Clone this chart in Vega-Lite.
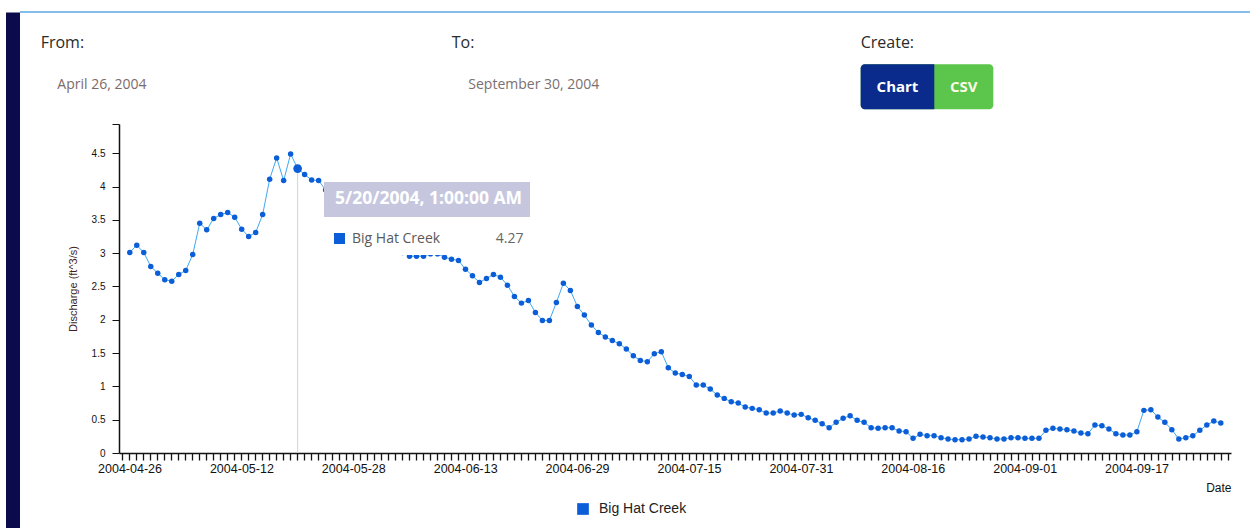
{
  "$schema": "https://vega.github.io/schema/vega-lite/v6.json",
  "width": 1112,
  "height": 329,
  "autosize": {"type": "none"},
  "padding": {"left": 119, "top": 124, "right": 19, "bottom": 75},
  "background": "white",
  "config": {"view": {"stroke": null}, "font": "Liberation Sans"},
  "datasets": {
    "flow": [
      {"date": "2004-04-26T01:00", "q": 3.01, "site": "Big Hat Creek"},
      {"date": "2004-04-27T01:00", "q": 3.12, "site": "Big Hat Creek"},
      {"date": "2004-04-28T01:00", "q": 3.01, "site": "Big Hat Creek"},
      {"date": "2004-04-29T01:00", "q": 2.80, "site": "Big Hat Creek"},
      {"date": "2004-04-30T01:00", "q": 2.70, "site": "Big Hat Creek"},
      {"date": "2004-05-01T01:00", "q": 2.60, "site": "Big Hat Creek"},
      {"date": "2004-05-02T01:00", "q": 2.58, "site": "Big Hat Creek"},
      {"date": "2004-05-03T01:00", "q": 2.68, "site": "Big Hat Creek"},
      {"date": "2004-05-04T01:00", "q": 2.74, "site": "Big Hat Creek"},
      {"date": "2004-05-05T01:00", "q": 2.98, "site": "Big Hat Creek"},
      {"date": "2004-05-06T01:00", "q": 3.45, "site": "Big Hat Creek"},
      {"date": "2004-05-07T01:00", "q": 3.35, "site": "Big Hat Creek"},
      {"date": "2004-05-08T01:00", "q": 3.52, "site": "Big Hat Creek"},
      {"date": "2004-05-09T01:00", "q": 3.58, "site": "Big Hat Creek"},
      {"date": "2004-05-10T01:00", "q": 3.61, "site": "Big Hat Creek"},
      {"date": "2004-05-11T01:00", "q": 3.54, "site": "Big Hat Creek"},
      {"date": "2004-05-12T01:00", "q": 3.36, "site": "Big Hat Creek"},
      {"date": "2004-05-13T01:00", "q": 3.25, "site": "Big Hat Creek"},
      {"date": "2004-05-14T01:00", "q": 3.31, "site": "Big Hat Creek"},
      {"date": "2004-05-15T01:00", "q": 3.58, "site": "Big Hat Creek"},
      {"date": "2004-05-16T01:00", "q": 4.11, "site": "Big Hat Creek"},
      {"date": "2004-05-17T01:00", "q": 4.43, "site": "Big Hat Creek"},
      {"date": "2004-05-18T01:00", "q": 4.09, "site": "Big Hat Creek"},
      {"date": "2004-05-19T01:00", "q": 4.49, "site": "Big Hat Creek"},
      {"date": "2004-05-20T01:00", "q": 4.27, "site": "Big Hat Creek"},
      {"date": "2004-05-21T01:00", "q": 4.18, "site": "Big Hat Creek"},
      {"date": "2004-05-22T01:00", "q": 4.10, "site": "Big Hat Creek"},
      {"date": "2004-05-23T01:00", "q": 4.09, "site": "Big Hat Creek"},
      {"date": "2004-05-24T01:00", "q": 3.95, "site": "Big Hat Creek"},
      {"date": "2004-05-25T01:00", "q": 3.80, "site": "Big Hat Creek"},
      {"date": "2004-05-26T01:00", "q": 3.65, "site": "Big Hat Creek"},
      {"date": "2004-05-27T01:00", "q": 3.50, "site": "Big Hat Creek"},
      {"date": "2004-05-28T01:00", "q": 3.38, "site": "Big Hat Creek"},
      {"date": "2004-05-29T01:00", "q": 3.27, "site": "Big Hat Creek"},
      {"date": "2004-05-30T01:00", "q": 3.18, "site": "Big Hat Creek"},
      {"date": "2004-05-31T01:00", "q": 3.13, "site": "Big Hat Creek"},
      {"date": "2004-06-01T01:00", "q": 3.10, "site": "Big Hat Creek"},
      {"date": "2004-06-02T01:00", "q": 3.06, "site": "Big Hat Creek"},
      {"date": "2004-06-03T01:00", "q": 3.03, "site": "Big Hat Creek"},
      {"date": "2004-06-04T01:00", "q": 3.01, "site": "Big Hat Creek"},
      {"date": "2004-06-05T01:00", "q": 2.955, "site": "Big Hat Creek"},
      {"date": "2004-06-06T01:00", "q": 2.955, "site": "Big Hat Creek"},
      {"date": "2004-06-07T01:00", "q": 2.955, "site": "Big Hat Creek"},
      {"date": "2004-06-08T01:00", "q": 2.99, "site": "Big Hat Creek"},
      {"date": "2004-06-09T01:00", "q": 2.99, "site": "Big Hat Creek"},
      {"date": "2004-06-10T01:00", "q": 2.94, "site": "Big Hat Creek"},
      {"date": "2004-06-11T01:00", "q": 2.91, "site": "Big Hat Creek"},
      {"date": "2004-06-12T01:00", "q": 2.89, "site": "Big Hat Creek"},
      {"date": "2004-06-13T01:00", "q": 2.76, "site": "Big Hat Creek"},
      {"date": "2004-06-14T01:00", "q": 2.66, "site": "Big Hat Creek"},
      {"date": "2004-06-15T01:00", "q": 2.56, "site": "Big Hat Creek"},
      {"date": "2004-06-16T01:00", "q": 2.62, "site": "Big Hat Creek"},
      {"date": "2004-06-17T01:00", "q": 2.68, "site": "Big Hat Creek"},
      {"date": "2004-06-18T01:00", "q": 2.64, "site": "Big Hat Creek"},
      {"date": "2004-06-19T01:00", "q": 2.52, "site": "Big Hat Creek"},
      {"date": "2004-06-20T01:00", "q": 2.35, "site": "Big Hat Creek"},
      {"date": "2004-06-21T01:00", "q": 2.25, "site": "Big Hat Creek"},
      {"date": "2004-06-22T01:00", "q": 2.29, "site": "Big Hat Creek"},
      {"date": "2004-06-23T01:00", "q": 2.11, "site": "Big Hat Creek"},
      {"date": "2004-06-24T01:00", "q": 1.99, "site": "Big Hat Creek"},
      {"date": "2004-06-25T01:00", "q": 1.99, "site": "Big Hat Creek"},
      {"date": "2004-06-26T01:00", "q": 2.26, "site": "Big Hat Creek"},
      {"date": "2004-06-27T01:00", "q": 2.55, "site": "Big Hat Creek"},
      {"date": "2004-06-28T01:00", "q": 2.44, "site": "Big Hat Creek"},
      {"date": "2004-06-29T01:00", "q": 2.20, "site": "Big Hat Creek"},
      {"date": "2004-06-30T01:00", "q": 2.07, "site": "Big Hat Creek"},
      {"date": "2004-07-01T01:00", "q": 1.92, "site": "Big Hat Creek"},
      {"date": "2004-07-02T01:00", "q": 1.81, "site": "Big Hat Creek"},
      {"date": "2004-07-03T01:00", "q": 1.74, "site": "Big Hat Creek"},
      {"date": "2004-07-04T01:00", "q": 1.69, "site": "Big Hat Creek"},
      {"date": "2004-07-05T01:00", "q": 1.64, "site": "Big Hat Creek"},
      {"date": "2004-07-06T01:00", "q": 1.56, "site": "Big Hat Creek"},
      {"date": "2004-07-07T01:00", "q": 1.46, "site": "Big Hat Creek"},
      {"date": "2004-07-08T01:00", "q": 1.39, "site": "Big Hat Creek"},
      {"date": "2004-07-09T01:00", "q": 1.37, "site": "Big Hat Creek"},
      {"date": "2004-07-10T01:00", "q": 1.49, "site": "Big Hat Creek"},
      {"date": "2004-07-11T01:00", "q": 1.52, "site": "Big Hat Creek"},
      {"date": "2004-07-12T01:00", "q": 1.28, "site": "Big Hat Creek"},
      {"date": "2004-07-13T01:00", "q": 1.20, "site": "Big Hat Creek"},
      {"date": "2004-07-14T01:00", "q": 1.18, "site": "Big Hat Creek"},
      {"date": "2004-07-15T01:00", "q": 1.15, "site": "Big Hat Creek"},
      {"date": "2004-07-16T01:00", "q": 1.02, "site": "Big Hat Creek"},
      {"date": "2004-07-17T01:00", "q": 1.02, "site": "Big Hat Creek"},
      {"date": "2004-07-18T01:00", "q": 0.96, "site": "Big Hat Creek"},
      {"date": "2004-07-19T01:00", "q": 0.87, "site": "Big Hat Creek"},
      {"date": "2004-07-20T01:00", "q": 0.82, "site": "Big Hat Creek"},
      {"date": "2004-07-21T01:00", "q": 0.77, "site": "Big Hat Creek"},
      {"date": "2004-07-22T01:00", "q": 0.75, "site": "Big Hat Creek"},
      {"date": "2004-07-23T01:00", "q": 0.69, "site": "Big Hat Creek"},
      {"date": "2004-07-24T01:00", "q": 0.67, "site": "Big Hat Creek"},
      {"date": "2004-07-25T01:00", "q": 0.65, "site": "Big Hat Creek"},
      {"date": "2004-07-26T01:00", "q": 0.60, "site": "Big Hat Creek"},
      {"date": "2004-07-27T01:00", "q": 0.60, "site": "Big Hat Creek"},
      {"date": "2004-07-28T01:00", "q": 0.63, "site": "Big Hat Creek"},
      {"date": "2004-07-29T01:00", "q": 0.60, "site": "Big Hat Creek"},
      {"date": "2004-07-30T01:00", "q": 0.57, "site": "Big Hat Creek"},
      {"date": "2004-07-31T01:00", "q": 0.58, "site": "Big Hat Creek"},
      {"date": "2004-08-01T01:00", "q": 0.53, "site": "Big Hat Creek"},
      {"date": "2004-08-02T01:00", "q": 0.49, "site": "Big Hat Creek"},
      {"date": "2004-08-03T01:00", "q": 0.44, "site": "Big Hat Creek"},
      {"date": "2004-08-04T01:00", "q": 0.38, "site": "Big Hat Creek"},
      {"date": "2004-08-05T01:00", "q": 0.46, "site": "Big Hat Creek"},
      {"date": "2004-08-06T01:00", "q": 0.52, "site": "Big Hat Creek"},
      {"date": "2004-08-07T01:00", "q": 0.56, "site": "Big Hat Creek"},
      {"date": "2004-08-08T01:00", "q": 0.49, "site": "Big Hat Creek"},
      {"date": "2004-08-09T01:00", "q": 0.46, "site": "Big Hat Creek"},
      {"date": "2004-08-10T01:00", "q": 0.38, "site": "Big Hat Creek"},
      {"date": "2004-08-11T01:00", "q": 0.37, "site": "Big Hat Creek"},
      {"date": "2004-08-12T01:00", "q": 0.38, "site": "Big Hat Creek"},
      {"date": "2004-08-13T01:00", "q": 0.38, "site": "Big Hat Creek"},
      {"date": "2004-08-14T01:00", "q": 0.33, "site": "Big Hat Creek"},
      {"date": "2004-08-15T01:00", "q": 0.32, "site": "Big Hat Creek"},
      {"date": "2004-08-16T01:00", "q": 0.22, "site": "Big Hat Creek"},
      {"date": "2004-08-17T01:00", "q": 0.28, "site": "Big Hat Creek"},
      {"date": "2004-08-18T01:00", "q": 0.26, "site": "Big Hat Creek"},
      {"date": "2004-08-19T01:00", "q": 0.26, "site": "Big Hat Creek"},
      {"date": "2004-08-20T01:00", "q": 0.23, "site": "Big Hat Creek"},
      {"date": "2004-08-21T01:00", "q": 0.21, "site": "Big Hat Creek"},
      {"date": "2004-08-22T01:00", "q": 0.20, "site": "Big Hat Creek"},
      {"date": "2004-08-23T01:00", "q": 0.20, "site": "Big Hat Creek"},
      {"date": "2004-08-24T01:00", "q": 0.21, "site": "Big Hat Creek"},
      {"date": "2004-08-25T01:00", "q": 0.25, "site": "Big Hat Creek"},
      {"date": "2004-08-26T01:00", "q": 0.24, "site": "Big Hat Creek"},
      {"date": "2004-08-27T01:00", "q": 0.23, "site": "Big Hat Creek"},
      {"date": "2004-08-28T01:00", "q": 0.21, "site": "Big Hat Creek"},
      {"date": "2004-08-29T01:00", "q": 0.21, "site": "Big Hat Creek"},
      {"date": "2004-08-30T01:00", "q": 0.23, "site": "Big Hat Creek"},
      {"date": "2004-08-31T01:00", "q": 0.23, "site": "Big Hat Creek"},
      {"date": "2004-09-01T01:00", "q": 0.22, "site": "Big Hat Creek"},
      {"date": "2004-09-02T01:00", "q": 0.22, "site": "Big Hat Creek"},
      {"date": "2004-09-03T01:00", "q": 0.22, "site": "Big Hat Creek"},
      {"date": "2004-09-04T01:00", "q": 0.34, "site": "Big Hat Creek"},
      {"date": "2004-09-05T01:00", "q": 0.37, "site": "Big Hat Creek"},
      {"date": "2004-09-06T01:00", "q": 0.36, "site": "Big Hat Creek"},
      {"date": "2004-09-07T01:00", "q": 0.35, "site": "Big Hat Creek"},
      {"date": "2004-09-08T01:00", "q": 0.33, "site": "Big Hat Creek"},
      {"date": "2004-09-09T01:00", "q": 0.30, "site": "Big Hat Creek"},
      {"date": "2004-09-10T01:00", "q": 0.29, "site": "Big Hat Creek"},
      {"date": "2004-09-11T01:00", "q": 0.42, "site": "Big Hat Creek"},
      {"date": "2004-09-12T01:00", "q": 0.41, "site": "Big Hat Creek"},
      {"date": "2004-09-13T01:00", "q": 0.36, "site": "Big Hat Creek"},
      {"date": "2004-09-14T01:00", "q": 0.29, "site": "Big Hat Creek"},
      {"date": "2004-09-15T01:00", "q": 0.27, "site": "Big Hat Creek"},
      {"date": "2004-09-16T01:00", "q": 0.27, "site": "Big Hat Creek"},
      {"date": "2004-09-17T01:00", "q": 0.32, "site": "Big Hat Creek"},
      {"date": "2004-09-18T01:00", "q": 0.64, "site": "Big Hat Creek"},
      {"date": "2004-09-19T01:00", "q": 0.65, "site": "Big Hat Creek"},
      {"date": "2004-09-20T01:00", "q": 0.54, "site": "Big Hat Creek"},
      {"date": "2004-09-21T01:00", "q": 0.46, "site": "Big Hat Creek"},
      {"date": "2004-09-22T01:00", "q": 0.35, "site": "Big Hat Creek"},
      {"date": "2004-09-23T01:00", "q": 0.21, "site": "Big Hat Creek"},
      {"date": "2004-09-24T01:00", "q": 0.23, "site": "Big Hat Creek"},
      {"date": "2004-09-25T01:00", "q": 0.26, "site": "Big Hat Creek"},
      {"date": "2004-09-26T01:00", "q": 0.34, "site": "Big Hat Creek"},
      {"date": "2004-09-27T01:00", "q": 0.42, "site": "Big Hat Creek"},
      {"date": "2004-09-28T01:00", "q": 0.48, "site": "Big Hat Creek"},
      {"date": "2004-09-29T01:00", "q": 0.45, "site": "Big Hat Creek"}
    ]
  },
  "layer": [
    {
      "data": {"values": [{}]},
      "mark": {"type": "rule", "color": "#c9d5e2", "strokeWidth": 1},
      "encoding": {
        "x": {"datum": {"year": 2004, "month": 5, "date": 20, "hours": 1}, "type": "temporal"},
        "y": {"datum": 4.27},
        "y2": {"datum": 0}
      }
    },
    {
      "data": {"name": "flow", "format": {"parse": {"date": "date"}}},
      "mark": {"type": "line", "color": "#3fa9f0", "strokeWidth": 1},
      "encoding": {
        "x": {
          "field": "date", "type": "temporal", "title": "Date",
          "scale": {"domain": [{"year": 2004, "month": 4, "date": 24, "hours": 12}, {"year": 2004, "month": 9, "date": 30, "hours": 12}]},
          "axis": {
            "tickCount": {"interval": "day", "step": 1},
            "labelExpr": "indexof(['2004-04-26','2004-05-12','2004-05-28','2004-06-13','2004-06-29','2004-07-15','2004-07-31','2004-08-16','2004-09-01','2004-09-17'], timeFormat(datum.value, '%Y-%m-%d')) >= 0 ? timeFormat(datum.value, '%Y-%m-%d') : ''",
            "labelOverlap": false, "labelFlush": false, "labelBound": false, "grid": false,
            "tickSize": 7, "tickColor": "#111", "tickWidth": 1.3,
            "domainColor": "#111", "domainWidth": 1.5,
            "labelFontSize": 12.5, "labelColor": "#111", "labelPadding": 2, "labelFont": "Liberation Sans",
            "titleAnchor": "end", "titleFontSize": 12, "titleFontWeight": "normal", "titlePadding": 8, "titleColor": "#111", "titleFont": "Liberation Sans"
          }
        },
        "y": {
          "field": "q", "type": "quantitative", "title": "Discharge (ft^3/s)",
          "scale": {"domain": [0, 4.939], "nice": false, "zero": false},
          "axis": {
            "values": [0, 0.5, 1, 1.5, 2, 2.5, 3, 3.5, 4, 4.5, 4.939],
            "tickCount": 30,
            "labelExpr": "datum.value > 4.6 ? '' : format(datum.value, '~g')",
            "labelOverlap": false,
            "grid": false, "tickSize": 7, "tickColor": "#111", "domainColor": "#111", "domainWidth": 1.5,
            "labelFontSize": 10, "labelColor": "#111", "labelPadding": 7, "labelFont": "Liberation Sans",
            "titleFontSize": 11, "titleFontWeight": "normal", "titleColor": "#3d1f24", "titlePadding": 13, "titleFont": "Liberation Sans"
          }
        }
      }
    },
    {
      "data": {"name": "flow", "format": {"parse": {"date": "date"}}},
      "mark": {"type": "point", "filled": true, "size": 30, "opacity": 1},
      "encoding": {
        "x": {"field": "date", "type": "temporal"},
        "y": {"field": "q", "type": "quantitative"},
        "color": {
          "field": "site", "type": "nominal",
          "scale": {"range": ["#0b5ed7"]},
          "legend": {
            "orient": "none", "legendX": 457, "legendY": 378, "title": null, "padding": 0,
            "symbolType": "square", "symbolSize": 137, "symbolStrokeWidth": 0,
            "labelFontSize": 14, "labelFont": "Liberation Sans", "labelColor": "#222", "labelOffset": 9
          }
        }
      }
    },
    {
      "data": {"name": "flow", "format": {"parse": {"date": "date"}}},
      "transform": [{"filter": "datum.q === 4.27"}],
      "mark": {"type": "point", "filled": true, "size": 75, "opacity": 1, "color": "#0b5ed7"},
      "encoding": {
        "x": {"field": "date", "type": "temporal"},
        "y": {"field": "q", "type": "quantitative"}
      }
    },
    {
      "data": {"values": [{}]},
      "mark": {"type": "rect", "color": "#c6c7de"},
      "encoding": {
        "x": {"datum": {"year": 2004, "month": 5, "date": 23, "hours": 19, "minutes": 29}, "type": "temporal"},
        "x2": {"datum": {"year": 2004, "month": 6, "date": 22, "hours": 6, "minutes": 24}},
        "y": {"datum": 4.068},
        "y2": {"datum": 3.543}
      }
    },
    {
      "data": {"values": [{}]},
      "mark": {"type": "rect", "color": "#ffffff"},
      "encoding": {
        "x": {"datum": {"year": 2004, "month": 5, "date": 23, "hours": 19, "minutes": 29}, "type": "temporal"},
        "x2": {"datum": {"year": 2004, "month": 6, "date": 22, "hours": 6, "minutes": 24}},
        "y": {"datum": 3.543},
        "y2": {"datum": 2.972}
      }
    },
    {
      "data": {"values": [{}]},
      "mark": {"type": "text", "text": "5/20/2004, 1:00:00 AM", "font": "Open Sans", "fontWeight": "bold", "fontSize": 17.5, "color": "#ffffff", "align": "center", "baseline": "middle"},
      "encoding": {
        "x": {"datum": {"year": 2004, "month": 6, "date": 7, "hours": 18, "minutes": 6}, "type": "temporal"},
        "y": {"datum": 3.806}
      }
    },
    {
      "data": {"values": [{}]},
      "mark": {"type": "point", "shape": "square", "filled": true, "size": 121, "color": "#0b5ed7", "opacity": 1},
      "encoding": {
        "x": {"datum": {"year": 2004, "month": 5, "date": 26, "hours": 0, "minutes": 40}, "type": "temporal"},
        "y": {"datum": 3.22}
      }
    },
    {
      "data": {"values": [{}]},
      "mark": {"type": "text", "text": "Big Hat Creek", "font": "Open Sans", "fontSize": 14, "letterSpacing": 1, "color": "#5a5a5a", "align": "left", "baseline": "middle"},
      "encoding": {
        "x": {"datum": {"year": 2004, "month": 5, "date": 27, "hours": 19, "minutes": 35}, "type": "temporal"},
        "y": {"datum": 3.22}
      }
    },
    {
      "data": {"values": [{}]},
      "mark": {"type": "text", "text": "4.27", "font": "Open Sans", "fontSize": 14, "letterSpacing": 1, "color": "#666666", "align": "right", "baseline": "middle"},
      "encoding": {
        "x": {"datum": {"year": 2004, "month": 6, "date": 21, "hours": 8, "minutes": 5}, "type": "temporal"},
        "y": {"datum": 3.22}
      }
    },
    {
      "data": {"values": [{}]},
      "mark": {"type": "text", "text": "From:", "font": "Open Sans", "fontSize": 16, "letterSpacing": 1, "color": "#2a2a2a", "align": "left", "baseline": "middle"},
      "encoding": {
        "x": {"datum": {"year": 2004, "month": 4, "date": 13, "hours": 7, "minutes": 18}, "type": "temporal"},
        "y": {"datum": 6.155}
      }
    },
    {
      "data": {"values": [{}]},
      "mark": {"type": "text", "text": "April 26, 2004", "font": "Open Sans", "fontSize": 14, "letterSpacing": 1, "color": "#7d6a6a", "align": "left", "baseline": "middle"},
      "encoding": {
        "x": {"datum": {"year": 2004, "month": 4, "date": 15, "hours": 16, "minutes": 16}, "type": "temporal"},
        "y": {"datum": 5.525}
      }
    },
    {
      "data": {"values": [{}]},
      "mark": {"type": "text", "text": "To:", "font": "Open Sans", "fontSize": 16, "letterSpacing": 1, "color": "#2a2a2a", "align": "left", "baseline": "middle"},
      "encoding": {
        "x": {"datum": {"year": 2004, "month": 6, "date": 11, "hours": 1, "minutes": 42}, "type": "temporal"},
        "y": {"datum": 6.155}
      }
    },
    {
      "data": {"values": [{}]},
      "mark": {"type": "text", "text": "September 30, 2004", "font": "Open Sans", "fontSize": 14, "letterSpacing": 1, "color": "#7a7070", "align": "left", "baseline": "middle"},
      "encoding": {
        "x": {"datum": {"year": 2004, "month": 6, "date": 13, "hours": 10, "minutes": 41}, "type": "temporal"},
        "y": {"datum": 5.525}
      }
    },
    {
      "data": {"values": [{}]},
      "mark": {"type": "text", "text": "Create:", "font": "Open Sans", "fontSize": 16, "letterSpacing": 1, "color": "#2a2a2a", "align": "left", "baseline": "middle"},
      "encoding": {
        "x": {"datum": {"year": 2004, "month": 8, "date": 8, "hours": 13, "minutes": 12}, "type": "temporal"},
        "y": {"datum": 6.155}
      }
    },
    {
      "data": {"values": [{}]},
      "mark": {"type": "rect", "color": "#5cc54b", "cornerRadius": 4},
      "encoding": {
        "x": {"datum": {"year": 2004, "month": 8, "date": 8, "hours": 13, "minutes": 12}, "type": "temporal"},
        "x2": {"datum": {"year": 2004, "month": 8, "date": 27, "hours": 12, "minutes": 15}},
        "y": {"datum": 5.835},
        "y2": {"datum": 5.16}
      }
    },
    {
      "data": {"values": [{}]},
      "mark": {"type": "rect", "color": "#0a2a8c", "cornerRadiusTopLeft": 4, "cornerRadiusBottomLeft": 4},
      "encoding": {
        "x": {"datum": {"year": 2004, "month": 8, "date": 8, "hours": 13, "minutes": 12}, "type": "temporal"},
        "x2": {"datum": {"year": 2004, "month": 8, "date": 19, "hours": 1, "minutes": 46}},
        "y": {"datum": 5.835},
        "y2": {"datum": 5.16}
      }
    },
    {
      "data": {"values": [{}]},
      "mark": {"type": "text", "text": "Chart", "font": "Open Sans", "fontWeight": "bold", "fontSize": 15, "color": "#ffffff", "align": "center", "baseline": "middle"},
      "encoding": {
        "x": {"datum": {"year": 2004, "month": 8, "date": 13, "hours": 19, "minutes": 30}, "type": "temporal"},
        "y": {"datum": 5.494}
      }
    },
    {
      "data": {"values": [{}]},
      "mark": {"type": "text", "text": "CSV", "font": "Open Sans", "fontWeight": "bold", "fontSize": 15, "color": "#fbfbe8", "align": "center", "baseline": "middle"},
      "encoding": {
        "x": {"datum": {"year": 2004, "month": 8, "date": 23, "hours": 7, "minutes": 2}, "type": "temporal"},
        "y": {"datum": 5.494}
      }
    },
    {
      "data": {"values": [{}]},
      "mark": {"type": "rect", "color": "#0a0a4c"},
      "encoding": {
        "x": {"datum": {"year": 2004, "month": 4, "date": 8, "hours": 8, "minutes": 14}, "type": "temporal"},
        "x2": {"datum": {"year": 2004, "month": 4, "date": 10, "hours": 8, "minutes": 15}},
        "y": {"datum": 6.613},
        "y2": {"datum": -1.2}
      }
    },
    {
      "data": {"values": [{}]},
      "mark": {"type": "rule", "color": "#5aa9e6", "strokeWidth": 1.5},
      "encoding": {
        "x": {"datum": {"year": 2004, "month": 4, "date": 10, "hours": 8, "minutes": 15}, "type": "temporal"},
        "x2": {"datum": {"year": 2004, "month": 10, "date": 3, "hours": 5}},
        "y": {"datum": 6.62}
      }
    }
  ]
}
